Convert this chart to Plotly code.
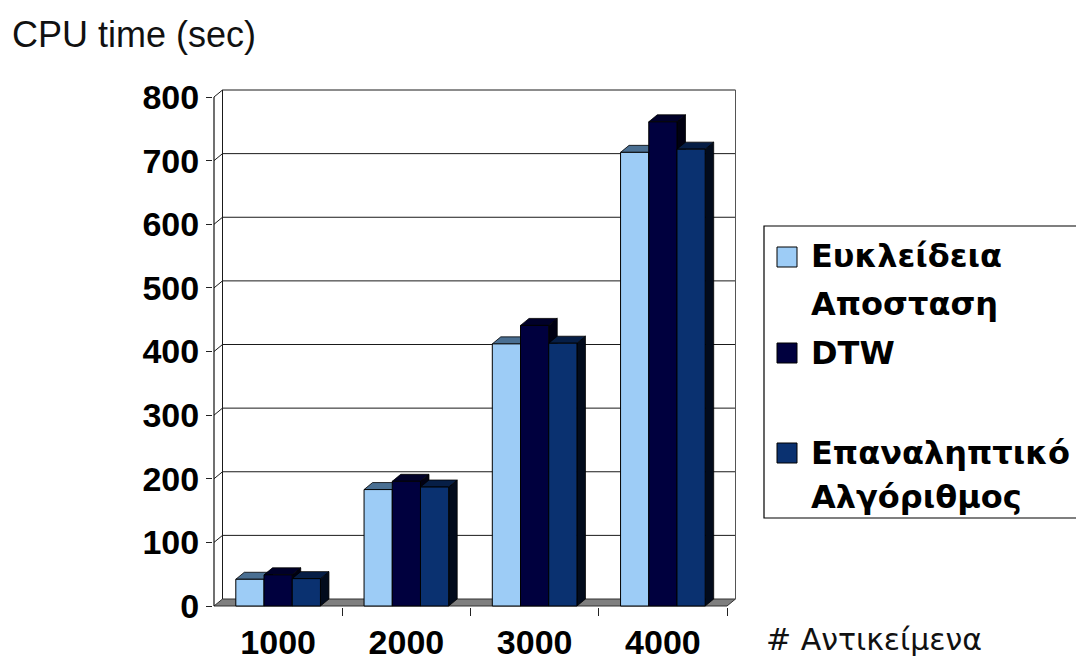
import plotly.graph_objects as go

# ---- data -------------------------------------------------------------
categories = ["1000", "2000", "3000", "4000"]
series_names = ["Ευκλείδεια Αποσταση", "DTW", "Επαναληπτικό Αλγόριθμος"]
euclidean = [42, 183, 412, 713]
dtw = [49, 196, 441, 761]
iterative = [43, 187, 413, 718]
y_ticks = [0, 100, 200, 300, 400, 500, 600, 700, 800]

series_values = [euclidean, dtw, iterative]
front_colors = ["#9DCCF6", "#00003E", "#0A3170"]
top_colors = ["#4A6F92", "#000029", "#061E46"]
side_colors = ["#27405A", "#000012", "#020B1C"]

# ---- frame geometry (pixels) -----------------------------------------
W, H = 1076, 667
L, R, T, B = 213, 745, 84, 607          # plotting frame
X0_PX, Y0_PX = 214, 606                 # front-left floor corner (x=0.5, y=0)
PX_PER_CAT = 128.25
PX_PER_UNIT = 0.63625
DEPTH_DX_PX, DEPTH_DY_PX = 8.5, 7.0

x_range = [0.5 - (X0_PX - L) / PX_PER_CAT, 0.5 + (R - X0_PX) / PX_PER_CAT]
y_range = [-(B - Y0_PX) / PX_PER_UNIT, (Y0_PX - T) / PX_PER_UNIT]
ddx = DEPTH_DX_PX / PX_PER_CAT
ddy = DEPTH_DY_PX / PX_PER_UNIT

bar_width = 0.22
bar_offsets = [-0.33, -0.11, 0.11]
xs = [1, 2, 3, 4]
x_left, x_right = 0.5, 4.5
y_top = y_ticks[-1]


def px_x(px):
    return (px - L) / (R - L)


def px_y(py):
    return (B - py) / (B - T)


def poly(points):
    return "M " + " L ".join(f"{x},{y}" for x, y in points) + " Z"


shapes = []

# floor slab
shapes.append(dict(
    type="path", xref="x", yref="y", layer="below",
    path=poly([(x_left, 0), (x_right, 0), (x_right + ddx, ddy), (x_left + ddx, ddy)]),
    fillcolor="#7F7F7F", line=dict(color="#333333", width=1),
))

# gridlines running across the side wall and the back wall
for g in y_ticks[1:]:
    shapes.append(dict(
        type="path", xref="x", yref="y", layer="below",
        path=f"M {x_left},{g} L {x_left + ddx},{g + ddy} L {x_right + ddx},{g + ddy}",
        line=dict(color="#1A1A1A", width=1),
    ))

# back wall edges
for xe, col in [(x_left + ddx, "#1A1A1A"), (x_right + ddx, "#555555")]:
    shapes.append(dict(
        type="line", xref="x", yref="y", layer="below",
        x0=xe, x1=xe, y0=ddy, y1=y_top + ddy,
        line=dict(color=col, width=1),
    ))

# front value axis
shapes.append(dict(
    type="line", xref="x", yref="y", layer="below",
    x0=x_left, x1=x_left, y0=0, y1=y_top,
    line=dict(color="#111111", width=1.2),
))

# depth faces of the columns (side then top, left to right)
for ci, xc in enumerate(xs):
    for si, vals in enumerate(series_values):
        v = vals[ci]
        xl = xc + bar_offsets[si]
        xr = xl + bar_width
        shapes.append(dict(
            type="path", xref="x", yref="y", layer="below",
            path=poly([(xr, 0), (xr, v), (xr + ddx, v + ddy), (xr + ddx, ddy)]),
            fillcolor=side_colors[si], line=dict(color="#000000", width=0.8),
        ))
        shapes.append(dict(
            type="path", xref="x", yref="y", layer="below",
            path=poly([(xl, v), (xr, v), (xr + ddx, v + ddy), (xl + ddx, v + ddy)]),
            fillcolor=top_colors[si], line=dict(color="#000000", width=0.8),
        ))

fig = go.Figure()

# front faces of the columns
for si, vals in enumerate(series_values):
    fig.add_trace(go.Bar(
        x=xs, y=vals, width=bar_width, offset=bar_offsets[si],
        name=series_names[si], showlegend=False,
        marker=dict(color=front_colors[si], line=dict(color="#000000", width=1)),
    ))

# ---- legend box -------------------------------------------------------
SANS = "Liberation Sans"
WIDE = "DejaVu Sans"
shapes.append(dict(
    type="rect", xref="paper", yref="paper",
    x0=px_x(764), x1=px_x(1100), y0=px_y(226), y1=px_y(518),
    line=dict(color="#000000", width=1.2), fillcolor="rgba(0,0,0,0)",
))

legend_rows = [
    # (square centre y, text lines with centre y)
    (257, [("Ευκλείδεια", 256), ("Αποσταση", 304)]),
    (353, [("DTW", 353)]),
    (453, [("Επαναληπτικό", 453), ("Αλγόριθμος", 497)]),
]
annotations = []
SQ = 20
for si, (sy, lines) in enumerate(legend_rows):
    shapes.append(dict(
        type="rect", xref="paper", yref="paper",
        x0=px_x(777), x1=px_x(777 + SQ), y0=px_y(sy + SQ / 2), y1=px_y(sy - SQ / 2),
        fillcolor=front_colors[si], line=dict(color="#000000", width=1),
    ))
    for txt, ty in lines:
        annotations.append(dict(
            text=txt, xref="paper", yref="paper", x=px_x(809), y=px_y(ty),
            xanchor="left", yanchor="middle", showarrow=False,
            font=dict(family=WIDE, size=32, color="#000000", weight="bold"),
        ))

annotations.append(dict(
    text="CPU time (sec)", xref="paper", yref="paper", x=px_x(10), y=px_y(35),
    xanchor="left", yanchor="middle", showarrow=False,
    font=dict(family=SANS, size=36, color="#111111"),
))
annotations.append(dict(
    text="# Αντικείμενα", xref="paper", yref="paper", x=px_x(764), y=px_y(640),
    xanchor="left", yanchor="middle", showarrow=False,
    font=dict(family=WIDE, size=30, color="#111111"),
))

fig.update_layout(
    width=W, height=H,
    margin=dict(l=L, r=W - R, t=T, b=H - B, pad=0, autoexpand=False),
    paper_bgcolor="white", plot_bgcolor="white",
    barmode="overlay",
    shapes=shapes, annotations=annotations,
    showlegend=False,
    xaxis=dict(
        range=x_range, tickvals=xs, ticktext=categories, automargin=False,
        showgrid=False, zeroline=False, showline=False,
        ticks="", ticklabelstandoff=12,
        tickfont=dict(family=SANS, size=34, color="#000000", weight="bold"),
        minor=dict(tickvals=[1.5, 2.5, 3.5, 4.5], ticks="outside", ticklen=8,
                   tickcolor="#222222", tickwidth=1.3, showgrid=False),
    ),
    yaxis=dict(
        range=y_range, tickvals=y_ticks, automargin=False,
        showgrid=False, zeroline=False, showline=False,
        ticks="outside", ticklen=6, tickcolor="#222222", tickwidth=1.3,
        tickfont=dict(family=SANS, size=34, color="#000000", weight="bold"),
    ),
)

fig.write_html("out.html")
